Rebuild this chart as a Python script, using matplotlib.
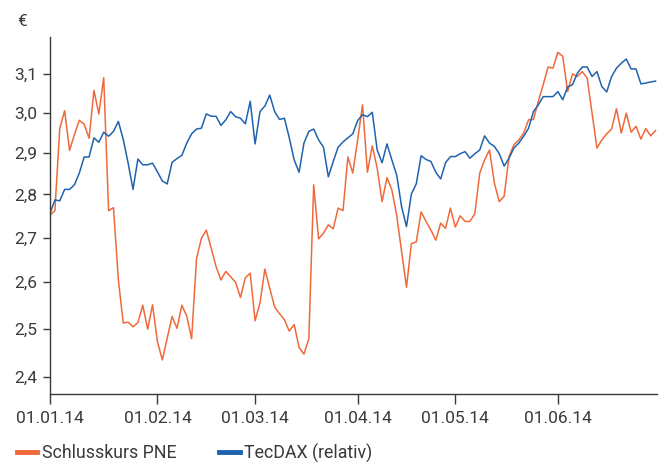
import numpy as np
import pandas as pd
import matplotlib
matplotlib.use('Agg')
import matplotlib.pyplot as plt
from matplotlib.lines import Line2D
from matplotlib.ticker import FixedLocator, NullLocator, FuncFormatter

# Handelstage 2014 (Xetra), ohne Karfreitag, Ostermontag, 1. Mai
holidays = pd.to_datetime(['2014-04-18', '2014-04-21', '2014-05-01'])
dates = pd.bdate_range('2014-01-02', '2014-06-30')
dates = dates[~dates.isin(holidays)]

pne = [2.752, 2.762, 2.961, 3.005, 2.906, 2.945, 2.981, 2.971, 2.936, 3.057,
       2.997, 3.090, 2.762, 2.769, 2.605, 2.512, 2.514, 2.504, 2.513, 2.550,
       2.499, 2.551, 2.473, 2.435, 2.480, 2.526, 2.501, 2.550, 2.527, 2.479,
       2.652, 2.698, 2.717, 2.676, 2.635, 2.605, 2.624, 2.612, 2.600, 2.567,
       2.610, 2.620, 2.517, 2.555, 2.629, 2.587, 2.546, 2.532, 2.519, 2.495,
       2.509, 2.461, 2.447, 2.479, 2.823, 2.697, 2.710, 2.729, 2.720, 2.768,
       2.762, 2.890, 2.851, 2.932, 3.020, 2.853, 2.917, 2.863, 2.783, 2.840,
       2.811, 2.751, 2.668, 2.589, 2.686, 2.690, 2.759, 2.737, 2.717, 2.694,
       2.733, 2.721, 2.768, 2.724, 2.750, 2.737, 2.737, 2.755, 2.851, 2.883,
       2.907, 2.827, 2.783, 2.796, 2.891, 2.920, 2.932, 2.949, 2.982, 2.983,
       3.029, 3.072, 3.118, 3.115, 3.157, 3.146, 3.054, 3.100, 3.093, 3.106,
       3.089, 2.999, 2.912, 2.932, 2.947, 2.959, 3.010, 2.949, 2.999, 2.951,
       2.966, 2.934, 2.960, 2.942, 2.955]

tecdax = [2.756, 2.787, 2.785, 2.812, 2.812, 2.823, 2.851, 2.890, 2.890, 2.937,
          2.926, 2.951, 2.941, 2.953, 2.978, 2.933, 2.875, 2.812, 2.885, 2.871,
          2.871, 2.875, 2.854, 2.832, 2.825, 2.877, 2.886, 2.894, 2.924, 2.947,
          2.959, 2.961, 2.997, 2.991, 2.991, 2.968, 2.982, 3.003, 2.990, 2.986,
          2.972, 3.029, 2.922, 3.003, 3.017, 3.045, 3.003, 2.983, 2.986, 2.937,
          2.883, 2.853, 2.924, 2.953, 2.959, 2.932, 2.914, 2.842, 2.879, 2.914,
          2.927, 2.937, 2.947, 2.980, 2.995, 2.990, 3.001, 2.907, 2.876, 2.922,
          2.883, 2.846, 2.771, 2.725, 2.801, 2.825, 2.893, 2.884, 2.879, 2.853,
          2.837, 2.876, 2.891, 2.891, 2.898, 2.903, 2.887, 2.898, 2.907, 2.942,
          2.924, 2.916, 2.898, 2.868, 2.887, 2.912, 2.924, 2.941, 2.961, 3.003,
          3.020, 3.041, 3.041, 3.041, 3.054, 3.033, 3.066, 3.072, 3.102, 3.118,
          3.118, 3.093, 3.106, 3.067, 3.053, 3.093, 3.115, 3.128, 3.139, 3.113,
          3.113, 3.074, 3.076, 3.079, 3.081]

yticks = [2.4, 2.5, 2.6, 2.7, 2.8, 2.9, 3.0, 3.1]

orange = '#F0693A'
blue = '#1F63AE'
grey = '#3a3a3a'

plt.rcParams['font.family'] = ['Roboto', 'DejaVu Sans']
plt.rcParams['text.color'] = grey

fig = plt.figure(figsize=(6.59, 4.63), dpi=100)
ax = fig.add_axes([50/659, 1-394/463, 607/659, 357/463])

x = np.arange(len(dates))
ax.plot(x, pne, color=orange, lw=1.1, label='Schlusskurs PNE')
ax.plot(x, tecdax, color=blue, lw=1.1, label='TecDAX (relativ)')

ax.set_yscale('log')
ax.set_ylim(2.366, 3.198)
ax.yaxis.set_major_locator(FixedLocator(yticks))
ax.yaxis.set_minor_locator(NullLocator())
ax.yaxis.set_major_formatter(FuncFormatter(lambda v, p: f'{v:.1f}'.replace('.', ',')))

# erster Handelstag jedes Monats als Tick
month_start = [i for i in range(len(dates)) if i == 0 or dates[i].month != dates[i-1].month]
ax.set_xticks(month_start)
ax.set_xticklabels([f'01.{dates[i].month:02d}.14' for i in month_start])
ax.set_xlim(0, 124.3)

for s in ['top', 'right']:
    ax.spines[s].set_visible(False)
for s in ['left', 'bottom']:
    ax.spines[s].set_color(grey)
    ax.spines[s].set_linewidth(1.0)

ax.tick_params(axis='y', length=5, width=1.0, color=grey, labelcolor=grey,
               labelsize=12.5, pad=4)
ax.tick_params(axis='x', length=7, width=1.0, color=grey, labelcolor=grey,
               labelsize=12.5, pad=5)

fig.text(17/659, 1-22/463, '€', fontsize=12.5, va='center', ha='left')

handles = [Line2D([], [], color=orange, lw=3.5),
           Line2D([], [], color=blue, lw=3.5)]
fig.legend(handles, ['Schlusskurs PNE', 'TecDAX (relativ)'],
           loc='center left', bbox_to_anchor=(17/659, 1-453/463),
           ncol=2, frameon=False, fontsize=12.8, handlelength=1.15,
           handletextpad=0.25, columnspacing=2.4, borderpad=0, borderaxespad=0)

fig.savefig('out.png', dpi=100)
